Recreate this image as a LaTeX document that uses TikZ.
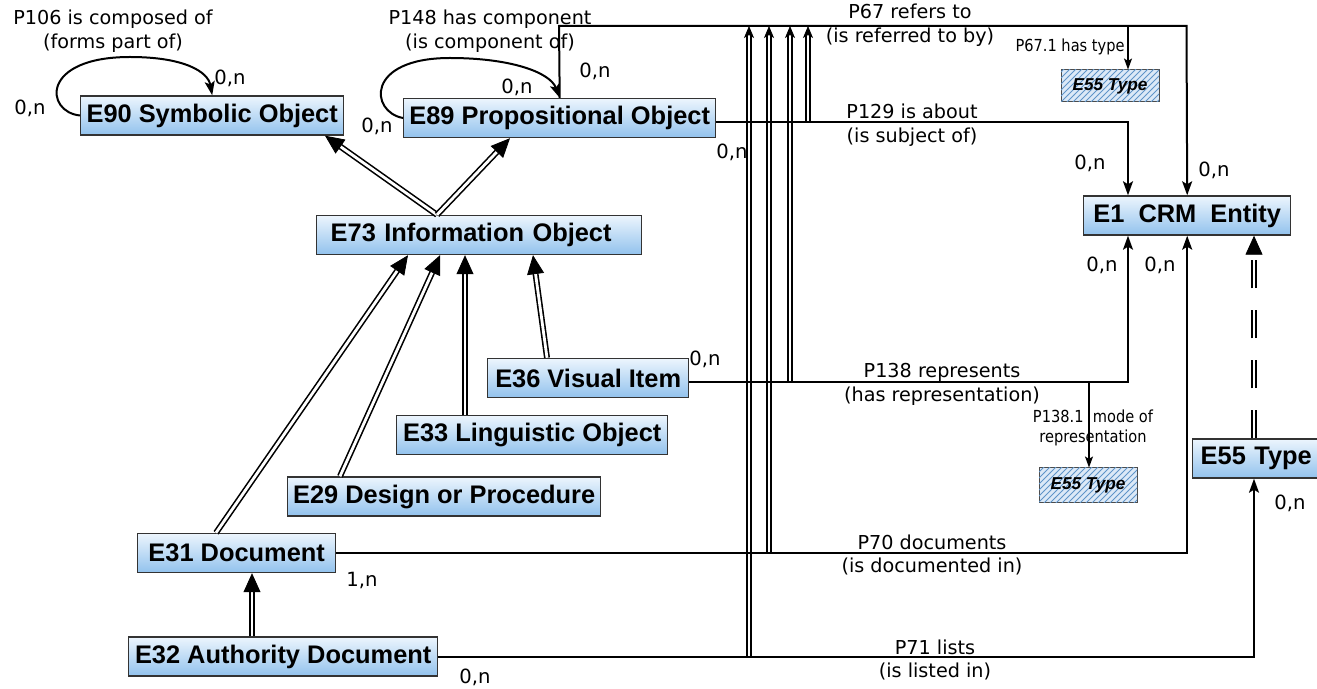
\documentclass[tikz,border=0pt]{standalone}
\usepackage{fontspec}
\setmainfont{DejaVu Sans}
\newfontfamily\boxfont{Liberation Sans}
\newfontfamily\condfont[FakeStretch=0.88]{DejaVu Sans}
\usetikzlibrary{arrows.meta,patterns,calc}
\definecolor{boxtop}{RGB}{236,245,253}
\definecolor{boxbot}{RGB}{146,194,237}
\definecolor{hatchbg}{RGB}{220,233,247}
\definecolor{hatchln}{RGB}{95,148,200}
\begin{document}
\begin{tikzpicture}[x=0.5pt,y=-0.5pt,
  ent/.style={draw=black!80, line width=0.7pt, top color=boxtop, bottom color=boxbot,
    font=\boxfont\bfseries\fontsize{12.7}{14}\selectfont, inner sep=0pt,
    minimum height=19.5pt, anchor=west},
  hatch/.style={draw=black!70, line width=0.5pt, fill=hatchbg,
    postaction={pattern=north east lines, pattern color=hatchln},
    font=\boxfont\bfseries\itshape\fontsize{8.6}{10}\selectfont,
    inner sep=0pt, minimum width=49pt, minimum height=16pt},
  lab/.style={font=\fontsize{9.6}{11.8}\selectfont, align=center, inner sep=0pt},
  card/.style={font=\fontsize{9.8}{11}\selectfont, inner sep=0pt},
  small/.style={font=\condfont\fontsize{8.3}{9.6}\selectfont, align=center, inner sep=0pt},
  rel/.style={line width=1pt, -{Stealth[length=7pt,width=5pt,inset=1.5pt]}},
  thinrel/.style={line width=0.6pt, -{Stealth[length=5.5pt,width=4pt,inset=1.2pt]}},
  isa/.style={double, double distance=1.4pt, line width=0.8pt,
    -{Triangle[length=9.5pt,width=8.5pt,line width=0.4pt]}},
  vdbl/.style={double, double distance=1.1pt, line width=0.8pt,
    -{Stealth[length=6pt,width=5pt,inset=1.5pt,line width=0.4pt]}},
  dsh/.style={double, double distance=1.3pt, line width=0.9pt, dash pattern=on 14pt off 11pt,
    -{Triangle[length=9.5pt,width=8.5pt,line width=0.4pt]}}
]
\fill[white] (0,0) rectangle (1317,689);
\useasboundingbox (0,0) rectangle (1317,689);

% entity boxes
\node[ent, minimum width=131.5pt] (E90) at (80,115.5) {E90 Symbolic Object};
\node[ent, minimum width=156pt] (E89) at (403,118) {E89 Propositional Object};
\node[ent, text width=148.5pt, inner xsep=7pt, align=left] (E73) at (316,235) {E73 Information Object};
\node[ent, minimum width=100.5pt] (E36) at (487,378) {E36 Visual Item};
\node[ent, minimum width=135.5pt] (E33) at (396,435) {E33 Linguistic Object};
\node[ent, minimum width=156.5pt] (E29) at (287,496.5) {E29 Design or Procedure};
\node[ent, minimum width=99pt] (E31) at (137,553) {E31 Document};
\node[ent, minimum width=154.5pt] (E32) at (128,656.5) {E32 Authority Document};
\node[ent, minimum width=103.5pt] (E1) at (1083,215.5) {E1\ \ CRM\ \ Entity};
\node[ent, text width=56pt, inner xsep=4pt, align=left] (E55) at (1192,458.5) {E55 Type};
\node[hatch] (T1) at (1110,86) {E55 Type};
\node[hatch, minimum height=17pt] (T2) at (1088,485) {E55 Type};

% named points
\coordinate (P67a) at (559,26);
\coordinate (P67b) at (1186.5,26);
\coordinate (P671) at (1128,26);
\coordinate (P1381) at (1089,382);
\coordinate (v1b) at (749,657);  \coordinate (v1t) at (749,26);
\coordinate (v2b) at (769,553);  \coordinate (v2t) at (769,26);
\coordinate (v3b) at (790,382);  \coordinate (v3t) at (790,26);
\coordinate (v4b) at (808,122);  \coordinate (v4t) at (808,26);

% vertical double lines (drawn first)
\draw[vdbl] (v1b) -- (v1t);
\draw[vdbl] (v2b) -- (v2t);
\draw[vdbl] (v3b) -- (v3t);
\draw[vdbl] (v4b) -- (v4t);

% loops
\draw[rel] (E90.west) .. controls (45,112) and (40,57) .. (130,57) .. controls (185,57) and (208,72) .. (E90.north);
\draw[rel] (E89.west) .. controls (370,112) and (365,58) .. (450,58) .. controls (510,58) and (550,72) .. (E89.north);

% properties
\draw[rel] (E89.north) -- (P67a) -- (P67b) -- (E1.north);
\draw[thinrel] (P671) -- (P671 |- T1.north);
\draw[rel] ([yshift=-2pt]E89.east) -| ($(E1.north west)+(45,0)$);
\draw[rel] ([yshift=-2pt]E36.east) -| ($(E1.south west)+(45,0)$);
\draw[thinrel] (P1381) -- (P1381 |- T2.north);
\draw[rel] (E31.east) -| (E1.south);
\draw[rel] (E32.east) -| ($(E55.south west)+(62,0)$);
\draw[dsh] ($(E55.north west)+(62,0)$) -- ($(E1.south west)+(171,0)$);

% isA
\draw[isa] ($(E73.north west)+(121,0)$) -- ($(E90.south west)+(245,0)$);
\draw[isa] ($(E73.north west)+(121,0)$) -- ($(E89.south west)+(107,0)$);
\draw[isa] ($(E31.north west)+(79,0)$) -- ($(E73.south west)+(92,0)$);
\draw[isa] ($(E29.north west)+(53,0)$) -- ($(E73.south west)+(124,0)$);
\draw[isa] ($(E33.north west)+(69,0)$) -- ($(E73.south west)+(149,0)$);
\draw[isa] ($(E36.north west)+(60,0)$) -- ($(E73.south west)+(217,0)$);
\draw[isa] ($(E32.north west)+(124,0)$) -- ($(E31.south west)+(115,0)$);

% property labels
\node[lab] (L106) at (113,31.5) {P106 is composed of\\(forms part of)};
\node[lab] (L148) at (490,31.5) {P148 has component\\(is component of)};
\node[lab] (L67) at (910,25) {P67 refers to\\(is referred to by)};
\node[lab] (L129) at (912,125) {P129 is about\\(is subject of)};
\node[lab] (L138) at (942,384.5) {P138 represents\\(has representation)};
\node[lab] (L70) at (932,555) {P70 documents\\(is documented in)};
\node[lab] (L71) at (935,660) {P71 lists\\(is listed in)};
\node[small, anchor=east] (L671) at (1125,47) {P67.1 has type};
\node[small] (L1381) at (1093,428) {P138.1\ \ mode of\\representation};

% cardinalities
\node[card] (c1) at (30,108) {0,n};
\node[card] (c2) at (230,78) {0,n};
\node[card] (c3) at (377,126) {0,n};
\node[card] (c4) at (517,87) {0,n};
\node[card] (c5) at (595,71) {0,n};
\node[card] (c6) at (732,152) {0,n};
\node[card] (c7) at (1090,163) {0,n};
\node[card] (c8) at (1214,170) {0,n};
\node[card] (c9) at (1102,265) {0,n};
\node[card] (c10) at (1160,265) {0,n};
\node[card] (c11) at (705,359) {0,n};
\node[card] (c12) at (362,580) {1,n};
\node[card] (c13) at (475,677) {0,n};
\node[card] (c14) at (1290,503) {0,n};
\end{tikzpicture}
\end{document}
